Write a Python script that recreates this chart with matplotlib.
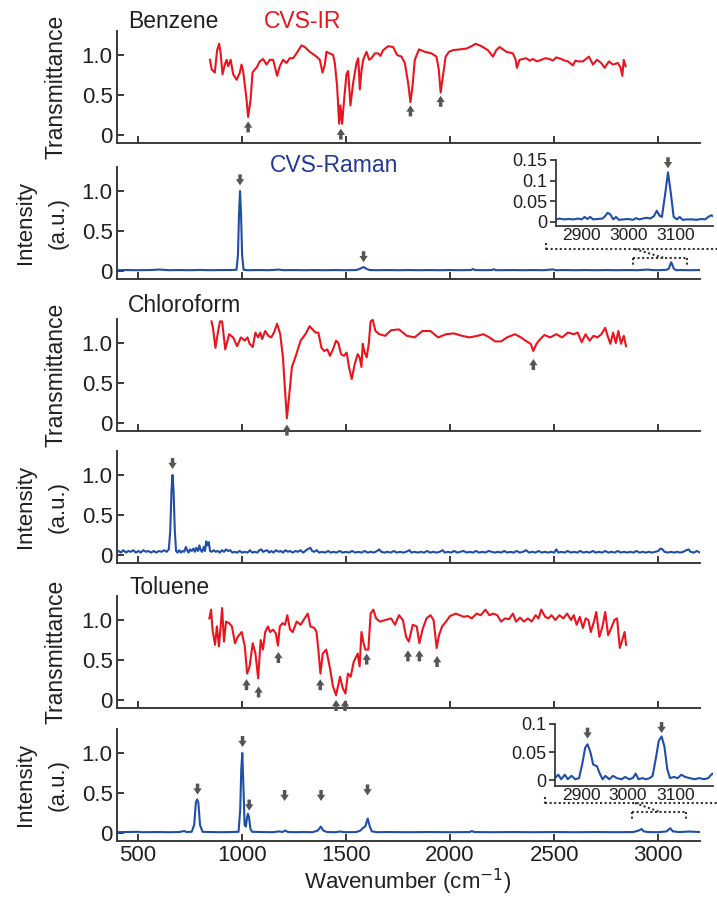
import numpy as np
import matplotlib
matplotlib.use('Agg')
import matplotlib.pyplot as plt
from matplotlib.lines import Line2D

plt.rcParams['font.family'] = ['Liberation Sans', 'DejaVu Sans']
plt.rcParams['mathtext.fontset'] = 'custom'
plt.rcParams['mathtext.rm'] = 'Liberation Sans'
plt.rcParams['mathtext.it'] = 'Liberation Sans:italic'

W, H = 717, 898
RED = '#e8151d'
BLUE = '#1f4ea8'
NAVY = '#23389a'
GRAY = '#555555'
AXC = '#3a3a3a'
TXT = '#231f20'

# ---------------------------------------------------------------- spectra
benzene_ir = [
    (848, .94), (856, .82), (871, .78), (882, 1.06), (892, 1.14), (899, 1.02), (908, .76),
    (919, .88), (928, .94), (935, .86), (947, .94), (959, .76), (976, .69), (991, .78),
    (999, .88), (1007, .80), (1023, .45), (1031, .225), (1043, .45), (1052, .78), (1063, .82),
    (1071, .84), (1087, .92), (1103, .95), (1119, .88), (1135, .94), (1151, .94), (1170, .74),
    (1183, .86), (1199, .94), (1215, .90), (1231, .96), (1247, .96), (1263, 1.02), (1287, 1.12),
    (1303, 1.10), (1327, 1.04), (1359, .98), (1375, .94), (1388, .78), (1399, .88), (1407, 1.04),
    (1423, 1.02), (1439, 1.00), (1447, .90), (1458, .61), (1468, .14), (1474, .37), (1482, .14),
    (1492, .45), (1503, .76), (1511, .80), (1522, .37), (1535, .65), (1551, .90), (1559, .96),
    (1563, .80), (1567, .57), (1575, .80), (1583, .94), (1599, 1.04), (1612, .94), (1623, .96),
    (1639, 1.02), (1655, 1.02), (1666, .99), (1679, 1.06), (1703, 1.11), (1727, 1.10),
    (1746, 1.00), (1767, .98), (1783, .90), (1799, .65), (1810, .41), (1820, .61), (1831, .94),
    (1851, 1.07), (1879, 1.04), (1911, 1.02), (1935, .98), (1946, .82), (1955, .53), (1966, .74),
    (1979, .98), (1995, 1.04), (2014, 1.06), (2046, 1.07), (2079, 1.08), (2103, 1.11),
    (2123, 1.14), (2151, 1.11), (2182, 1.06), (2206, .98), (2222, 1.06), (2238, 1.10),
    (2271, 1.04), (2302, 1.02), (2315, .94), (2321, .84), (2334, .94), (2366, .96), (2382, .93),
    (2398, .95), (2418, .92), (2438, .94), (2458, .96), (2478, .95), (2494, .93), (2510, .97),
    (2534, .95), (2550, .93), (2566, .92), (2590, .87), (2602, .93), (2614, .92), (2638, .92),
    (2667, .98), (2686, .88), (2705, .94), (2726, .90), (2742, .84), (2763, .92), (2782, .88),
    (2806, .90), (2819, .84), (2827, .74), (2834, .94), (2843, .86),
]

chloroform_ir = [
    (855, 1.27), (862, 1.19), (874, .94), (887, 1.15), (896, 1.27), (906, 1.27), (921, .92),
    (940, 1.11), (959, 1.07), (978, .96), (996, 1.07), (1015, 1.03), (1028, 1.07), (1038, .99),
    (1053, .95), (1066, 1.13), (1079, 1.07), (1089, 1.13), (1098, 1.05), (1113, 1.15),
    (1128, 1.09), (1142, 1.07), (1155, 1.13), (1170, 1.24), (1185, 1.11), (1198, .82),
    (1208, .41), (1217, .06), (1226, .29), (1241, .70), (1260, .84), (1283, 1.03), (1306, 1.11),
    (1326, 1.21), (1340, 1.17), (1355, 1.13), (1368, 1.13), (1383, .94), (1396, .90),
    (1411, .92), (1424, .84), (1438, .92), (1453, 1.03), (1464, 1.00), (1477, .86), (1491, .84),
    (1504, .88), (1515, .70), (1528, .55), (1543, .74), (1557, .86), (1566, .82), (1575, .70),
    (1581, .99), (1588, .90), (1600, .82), (1610, .99), (1619, 1.27), (1629, 1.29), (1642, 1.15),
    (1661, 1.11), (1689, 1.09), (1717, 1.16), (1755, 1.17), (1793, 1.09), (1830, 1.07),
    (1868, 1.15), (1906, 1.15), (1943, 1.07), (1981, 1.11), (2019, 1.12), (2057, 1.09),
    (2094, 1.07), (2132, 1.09), (2160, 1.11), (2189, 1.07), (2217, 1.02), (2245, 1.02),
    (2274, 1.07), (2312, 1.11), (2340, 1.07), (2368, 1.02), (2387, .99), (2400, .90),
    (2415, .99), (2434, 1.05), (2453, 1.10), (2481, 1.07), (2510, 1.11), (2538, 1.07),
    (2566, 1.13), (2594, 1.11), (2613, 1.13), (2632, 1.01), (2651, 1.11), (2670, 1.03),
    (2689, 1.09), (2708, 1.07), (2727, 1.11), (2745, 1.19), (2759, 1.07), (2770, .99),
    (2783, 1.13), (2796, 1.00), (2808, 1.15), (2821, .99), (2834, 1.09), (2845, .96),
]

toluene_ir = [
    (845, 1.02), (853, 1.13), (860, .88), (872, .69), (881, .92), (891, .67), (898, .90),
    (906, 1.15), (915, .73), (925, .98), (940, .96), (953, .92), (968, .71), (981, .79),
    (1000, .85), (1015, .67), (1026, .33), (1038, .42), (1053, .71), (1066, .58), (1079, .27),
    (1091, .75), (1102, .63), (1113, .85), (1126, .92), (1136, .85), (1151, .88), (1164, .83),
    (1174, .68), (1183, .92), (1196, .96), (1208, .94), (1219, 1.06), (1232, .88), (1245, .85),
    (1264, .98), (1283, .94), (1302, 1.02), (1317, 1.08), (1330, .92), (1349, .90), (1359, .85),
    (1368, .63), (1378, .33), (1389, .58), (1406, .63), (1425, .38), (1438, .17), (1453, .06),
    (1472, .29), (1485, .15), (1498, .08), (1510, .33), (1523, .29), (1538, .48), (1557, .58),
    (1566, .42), (1575, .85), (1585, .71), (1594, .63), (1608, .63), (1619, 1.08), (1632, 1.13),
    (1645, 1.02), (1664, .98), (1689, 1.00), (1717, 1.02), (1736, .94), (1755, 1.06),
    (1774, 1.00), (1789, .79), (1802, .73), (1821, .94), (1840, .92), (1853, .71), (1868, .88),
    (1887, 1.02), (1906, 1.06), (1921, 1.00), (1936, .65), (1947, .81), (1962, .92),
    (1981, .98), (2000, 1.05), (2028, 1.08), (2047, 1.06), (2066, 1.04), (2085, 1.05),
    (2104, 1.02), (2128, 1.08), (2147, 1.06), (2170, 1.13), (2189, 1.06), (2208, 1.08),
    (2227, 1.06), (2245, .98), (2264, 1.02), (2283, 1.01), (2302, 1.08), (2317, .98),
    (2336, 1.03), (2355, .98), (2374, 1.02), (2392, .98), (2411, 1.06), (2425, 1.02),
    (2438, 1.13), (2457, 1.04), (2472, 1.02), (2487, 1.06), (2506, 1.00), (2525, 1.06),
    (2544, 1.02), (2562, 1.08), (2581, 1.00), (2594, 1.06), (2608, .94), (2623, 1.04),
    (2638, .90), (2651, 1.02), (2664, 1.00), (2676, .85), (2691, .98), (2702, 1.10),
    (2717, .79), (2732, .92), (2745, 1.10), (2759, .81), (2774, .90), (2789, 1.00),
    (2802, 1.02), (2815, .65), (2827, .75), (2838, .85), (2845, .69),
]

benzene_raman = [
    (400, .010), (450, .012), (500, .010), (560, .012), (606, .018), (650, .010), (700, .012),
    (750, .010), (800, .013), (850, .010), (900, .012), (950, .012), (975, .015), (982, .20),
    (987, .70), (992, 1.0), (997, .70), (1002, .20), (1009, .015), (1030, .010), (1080, .012),
    (1130, .010), (1178, .018), (1200, .010), (1250, .012), (1300, .010), (1350, .012),
    (1400, .010), (1450, .012), (1500, .010), (1550, .012), (1570, .030), (1585, .050),
    (1600, .025), (1615, .012), (1650, .010), (1700, .012), (1750, .010), (1800, .012),
    (1850, .010), (1900, .012), (1950, .010), (2000, .012), (2050, .010), (2100, .012),
    (2110, .025), (2120, .012), (2160, .010), (2200, .012), (2210, .022), (2220, .010),
    (2300, .012), (2350, .010), (2400, .012), (2450, .010), (2495, .020), (2505, .010),
    (2550, .012), (2600, .010), (2650, .012), (2700, .010), (2750, .012), (2800, .010),
    (2850, .012), (2900, .010), (2950, .018), (2970, .012), (3000, .010), (3040, .015),
    (3050, .030), (3062, .110), (3074, .030), (3085, .010), (3100, .012), (3150, .010),
    (3200, .012),
]

benzene_zoom = [
    (2846, .006), (2852, .008), (2862, .006), (2872, .007), (2882, .006), (2892, .008),
    (2900, .006), (2906, .012), (2912, .007), (2918, .012), (2924, .006), (2934, .007),
    (2944, .008), (2950, .014), (2955, .022), (2961, .018), (2967, .006), (2973, .012),
    (2979, .005), (2989, .006), (2999, .007), (3009, .005), (3016, .009), (3023, .006),
    (3030, .008), (3038, .010), (3046, .008), (3054, .014), (3060, .027), (3066, .015),
    (3071, .012), (3077, .060), (3084, .120), (3090, .070), (3096, .012), (3103, .006),
    (3109, .012), (3115, .005), (3125, .006), (3135, .006), (3145, .005), (3155, .007),
    (3163, .006), (3170, .012), (3176, .016), (3180, .014),
]

chloroform_raman = [
    (400, .03), (410, .05), (420, .03), (432, .06), (445, .03), (455, .05), (468, .04),
    (480, .06), (492, .03), (505, .05), (515, .03), (528, .06), (540, .04), (552, .05),
    (565, .03), (578, .05), (590, .03), (602, .05), (615, .04), (628, .06), (640, .04),
    (650, .07), (657, .30), (663, .80), (668, 1.0), (673, .80), (679, .30), (685, .05),
    (692, .03), (700, .06), (708, .03), (716, .05), (724, .04), (732, .10), (738, .06),
    (745, .03), (752, .07), (760, .05), (768, .08), (775, .04), (782, .09), (790, .05),
    (797, .12), (803, .06), (810, .04), (818, .10), (824, .05), (830, .17), (836, .12),
    (842, .16), (848, .05), (856, .04), (865, .06), (875, .04), (885, .05), (895, .03),
    (905, .06), (915, .04), (925, .07), (935, .05), (945, .06), (955, .03), (965, .04),
    (978, .03), (990, .05), (1002, .03), (1015, .04), (1028, .03), (1040, .06), (1050, .03),
    (1062, .04), (1075, .03), (1085, .06), (1094, .07), (1102, .04), (1112, .05), (1122, .06),
    (1132, .03), (1142, .05), (1152, .03), (1165, .06), (1178, .04), (1188, .05), (1198, .03),
    (1210, .06), (1222, .04), (1232, .05), (1245, .03), (1258, .05), (1270, .04), (1282, .06),
    (1295, .03), (1305, .05), (1315, .07), (1322, .08), (1330, .09), (1338, .05), (1348, .04),
    (1360, .06), (1372, .03), (1385, .04), (1400, .03), (1415, .05), (1428, .03), (1440, .04),
    (1455, .03), (1470, .05), (1485, .03), (1500, .04), (1515, .03), (1530, .05), (1545, .03),
    (1560, .04), (1575, .03), (1590, .05), (1605, .03), (1620, .04), (1635, .03), (1650, .05),
    (1660, .07), (1670, .04), (1685, .03), (1700, .04), (1715, .03), (1730, .05), (1745, .03),
    (1760, .04), (1775, .03), (1790, .04), (1805, .06), (1815, .03), (1830, .04), (1845, .03),
    (1860, .04), (1875, .03), (1890, .05), (1905, .03), (1920, .04), (1935, .03), (1950, .04),
    (1965, .06), (1975, .03), (1990, .04), (2005, .03), (2020, .05), (2035, .03), (2050, .04),
    (2065, .05), (2080, .03), (2095, .04), (2110, .03), (2125, .05), (2140, .03), (2155, .04),
    (2170, .03), (2185, .05), (2200, .04), (2215, .03), (2230, .04), (2245, .03), (2260, .05),
    (2275, .03), (2290, .04), (2305, .03), (2320, .05), (2335, .03), (2350, .04), (2365, .06),
    (2380, .03), (2395, .04), (2410, .03), (2425, .05), (2440, .03), (2455, .04), (2470, .03),
    (2485, .04), (2500, .03), (2510, .07), (2520, .03), (2535, .04), (2550, .03), (2565, .05),
    (2580, .03), (2595, .04), (2610, .03), (2625, .05), (2640, .03), (2655, .04), (2670, .03),
    (2685, .05), (2700, .03), (2715, .04), (2730, .03), (2745, .05), (2760, .03), (2775, .04),
    (2790, .03), (2805, .05), (2820, .03), (2835, .04), (2850, .03), (2865, .04), (2880, .03),
    (2895, .05), (2910, .03), (2925, .04), (2940, .03), (2955, .04), (2970, .03), (2985, .04),
    (3000, .05), (3010, .08), (3020, .07), (3030, .04), (3045, .03), (3060, .04), (3075, .03),
    (3090, .04), (3105, .03), (3120, .04), (3135, .06), (3145, .07), (3155, .04), (3170, .03),
    (3185, .05), (3200, .03),
]

toluene_raman = [
    (400, .010), (450, .012), (500, .015), (520, .010), (600, .012), (650, .010), (700, .012),
    (725, .025), (735, .012), (760, .015), (772, .10), (780, .38), (786, .42), (792, .38),
    (800, .10), (812, .015), (850, .012), (900, .010), (950, .012), (985, .015), (993, .30),
    (998, .80), (1003, 1.0), (1008, .60), (1014, .10), (1020, .08), (1026, .20), (1030, .24),
    (1035, .20), (1042, .05), (1050, .015), (1100, .012), (1150, .010), (1180, .020),
    (1195, .012), (1210, .030), (1222, .012), (1260, .010), (1300, .012), (1340, .010),
    (1365, .030), (1380, .080), (1392, .030), (1410, .012), (1450, .010), (1470, .018),
    (1500, .010), (1550, .012), (1570, .030), (1585, .070), (1593, .080), (1605, .180),
    (1615, .080), (1625, .020), (1650, .010), (1700, .012), (1800, .010), (1900, .012),
    (2000, .010), (2095, .012), (2105, .025), (2115, .012), (2200, .010), (2300, .012),
    (2400, .010), (2500, .012), (2600, .010), (2700, .012), (2800, .010), (2880, .012),
    (2905, .030), (2920, .050), (2930, .020), (2950, .012), (3000, .010), (3040, .020),
    (3057, .060), (3070, .020), (3100, .012), (3150, .018), (3200, .012),
]

toluene_zoom = [
    (2846, .005), (2852, .010), (2858, .002), (2866, .010), (2872, .002), (2880, .008),
    (2888, .002), (2896, .004), (2903, .030), (2909, .058), (2914, .064), (2920, .050),
    (2926, .028), (2934, .025), (2940, .012), (2946, .002), (2952, .008), (2960, .002),
    (2968, .008), (2976, .004), (2986, .002), (2994, .006), (3002, .002), (3010, .004),
    (3016, .012), (3022, .002), (3030, .004), (3038, .002), (3046, .004), (3052, .008),
    (3059, .040), (3065, .070), (3071, .078), (3077, .060), (3083, .020), (3089, .004),
    (3097, .006), (3105, .004), (3113, .010), (3121, .006), (3131, .004), (3141, .002),
    (3151, .004), (3161, .002), (3170, .004), (3176, .010), (3180, .012),
]

# arrow markers: wavenumber and the y value of the arrow tip
benzene_ir_arrows = ([1031, 1476, 1810, 1955], [0.17, 0.08, 0.37, 0.49])
chloroform_ir_arrows = ([1217, 2400], [-0.02, 0.80])
toluene_ir_arrows = ([1023, 1081, 1176, 1377, 1453, 1496, 1600, 1798, 1853, 1938],
                     [0.26, 0.17, 0.60, 0.26, 0.0, 0.0, 0.58, 0.62, 0.62, 0.55])
benzene_raman_arrows = ([992, 1585], [1.07, 0.11])
benzene_zoom_arrows = ([3084], [0.13])
chloroform_raman_arrows = ([668], [1.075])
toluene_raman_arrows = ([788, 1004, 1036, 1206, 1381, 1604], [0.48, 1.075, 0.28, 0.40, 0.40, 0.47])
toluene_zoom_arrows = ([2914, 3071], [0.074, 0.084])

x_ticks = [500, 1000, 1500, 2000, 2500, 3000]
y_ticks = [0, 0.5, 1.0]
y_ticklabels = ['0', '0.5', '1.0']
zoom_xticks = [2900, 3000, 3100]

# ---------------------------------------------------------------- layout
fig = plt.figure(figsize=(W / 100, H / 100), dpi=100)


def box(left, top, right, bottom):
    return [left / W, 1 - bottom / H, (right - left) / W, (bottom - top) / H]


def fig_text(x, y, s, **kw):
    fig.text(x / W, 1 - y / H, s, **kw)


def dotted(x1, y1, x2, y2):
    fig.add_artist(Line2D([x1 / W, x2 / W], [1 - y1 / H, 1 - y2 / H], transform=fig.transFigure,
                          ls=(0, (1, 1.2)), lw=1.5, color='#333333'))


def arrows(ax, pos, up=True):
    for x, tip in zip(*pos):
        ax.annotate('', xy=(x, tip), xytext=(0, -11 if up else 11), textcoords='offset pixels',
                    annotation_clip=False,
                    arrowprops=dict(arrowstyle='simple,head_length=0.45,head_width=0.6,tail_width=0.25',
                                    mutation_scale=10, color=GRAY, lw=0, shrinkA=0, shrinkB=0))


def style(ax, xlabels=False):
    ax.set_xlim(400, 3200)
    ax.set_ylim(-0.1, 1.3)
    for s in ['top', 'right']:
        ax.spines[s].set_visible(False)
    for s in ['left', 'bottom']:
        ax.spines[s].set_color(AXC)
        ax.spines[s].set_linewidth(1.4)
    ax.set_xticks(x_ticks)
    ax.set_yticks(y_ticks)
    ax.set_yticklabels(y_ticklabels)
    ax.tick_params(direction='in', length=5, width=1.4, color=AXC, labelsize=16,
                   labelcolor=TXT, pad=3)
    if not xlabels:
        ax.tick_params(axis='x', labelbottom=False)


def style_zoom(ax, ymax, yticks, ylabels):
    ax.set_xlim(2845, 3180)
    ax.set_ylim(-0.01, ymax)
    for s in ['top', 'right']:
        ax.spines[s].set_visible(False)
    for s in ['left', 'bottom']:
        ax.spines[s].set_color(AXC)
        ax.spines[s].set_linewidth(1.3)
    ax.set_xticks(zoom_xticks)
    ax.set_yticks(yticks)
    ax.set_yticklabels(ylabels)
    ax.tick_params(axis='y', direction='out', length=4, width=1.3, color=AXC, labelsize=13,
                   labelcolor=TXT, pad=2)
    ax.tick_params(axis='x', length=0, labelsize=12.5, labelcolor=TXT, pad=1.5)
    ax.patch.set_alpha(0)


tops = [31, 167, 319, 451, 596, 729]
axes = [fig.add_axes(box(116.7, t, 700, t + 112)) for t in tops]
spectra = [benzene_ir, benzene_raman, chloroform_ir, chloroform_raman, toluene_ir, toluene_raman]
colors = [RED, BLUE, RED, BLUE, RED, BLUE]

for i, (ax, spec, c) in enumerate(zip(axes, spectra, colors)):
    wn, val = np.array(spec).T
    ax.plot(wn, val, color=c, lw=1.5, solid_joinstyle='round')
    style(ax, xlabels=(i == 5))

arrows(axes[0], benzene_ir_arrows)
arrows(axes[1], benzene_raman_arrows, up=False)
arrows(axes[2], chloroform_ir_arrows)
arrows(axes[3], chloroform_raman_arrows, up=False)
arrows(axes[4], toluene_ir_arrows)
arrows(axes[5], toluene_raman_arrows, up=False)

# insets with the C-H stretch region
ins1 = fig.add_axes(box(556, 160, 713, 226))
wn, val = np.array(benzene_zoom).T
ins1.plot(wn, val, color=BLUE, lw=1.5)
style_zoom(ins1, 0.15, [0, 0.05, 0.1, 0.15], ['0', '0.05', '0.1', '0.15'])
arrows(ins1, benzene_zoom_arrows, up=False)

ins2 = fig.add_axes(box(555, 724, 713, 786))
wn, val = np.array(toluene_zoom).T
ins2.plot(wn, val, color=BLUE, lw=1.5)
style_zoom(ins2, 0.1, [0, 0.05, 0.1], ['0', '0.05', '0.1'])
arrows(ins2, toluene_zoom_arrows, up=False)

# dotted connectors between the insets and the zoomed range
dotted(546, 249, 717, 249)
dotted(546, 243, 546, 250)
dotted(635, 249, 664, 258)
dotted(633, 258, 687, 258)
dotted(633, 258, 633, 267)
dotted(687, 258, 687, 267)

dotted(545, 803, 717, 803)
dotted(545, 797, 545, 804)
dotted(635, 803, 660, 812)
dotted(632, 812, 686, 812)
dotted(632, 812, 632, 820)
dotted(686, 812, 686, 820)

# labels
fig_text(128, 21, 'Benzene', fontsize=16.5, color=TXT, va='center')
fig_text(264, 21, 'CVS-IR', fontsize=16.5, color=RED, va='center')
fig_text(270, 166, 'CVS-Raman', fontsize=16.5, color=NAVY, va='center')
fig_text(128, 305, 'Chloroform', fontsize=16.5, color=TXT, va='center')
fig_text(130, 588, 'Toluene', fontsize=16.5, color=TXT, va='center')

for t in [31, 319, 596]:
    fig_text(56, t + 56, 'Transmittance', fontsize=16.5, color=TXT, rotation=90,
             ha='center', va='center')
for t in [167, 451, 729]:
    fig_text(26, t + 56, 'Intensity', fontsize=16, color=TXT, rotation=90, ha='center', va='center')
    fig_text(58, t + 56, '(a.u.)', fontsize=16, color=TXT, rotation=90, ha='center', va='center')

fig_text(408, 882, 'Wavenumber (cm$^{\\mathsf{-1}}$)', fontsize=16, color=TXT, ha='center', va='center')

fig.savefig('out.png', dpi=100)
